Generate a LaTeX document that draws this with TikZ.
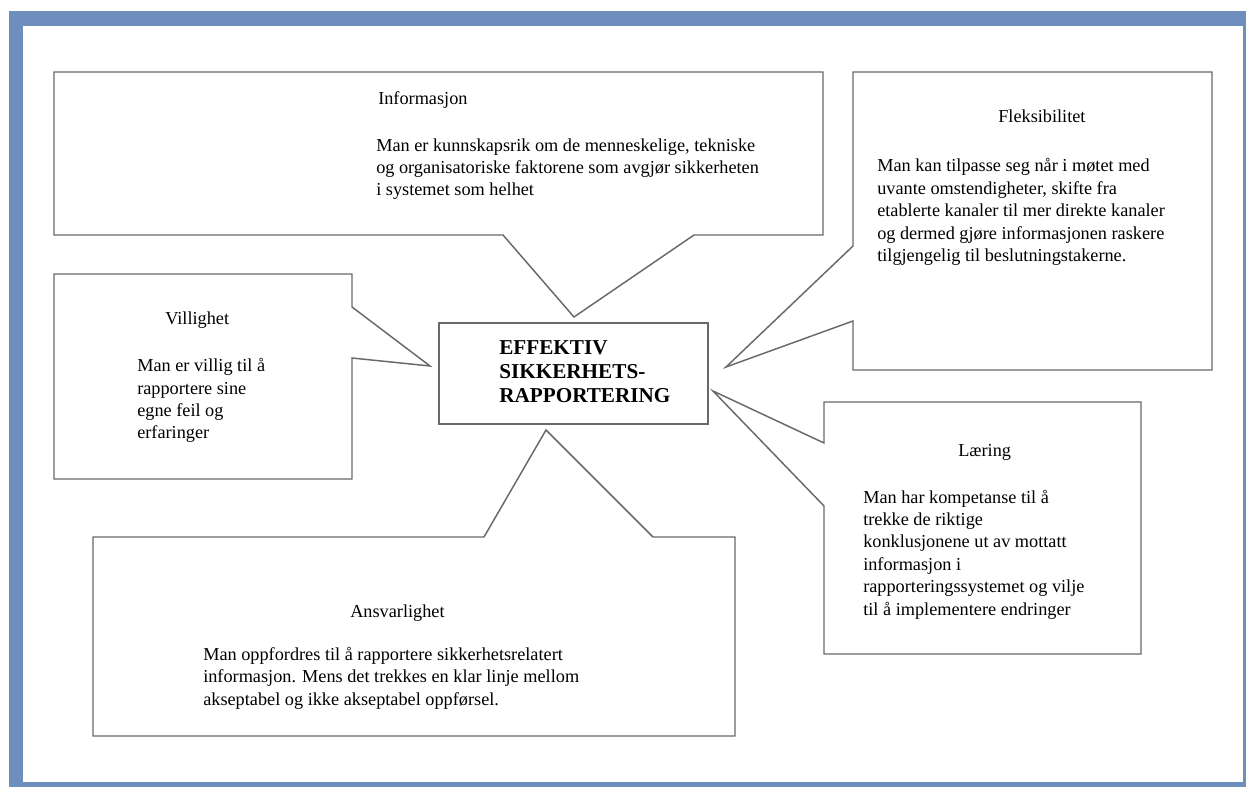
\documentclass[tikz,border=0pt]{standalone}
\usepackage{fontspec}
\setmainfont{Liberation Serif}
\begin{document}
\definecolor{frameblue}{RGB}{110,142,190}
\definecolor{linegray}{RGB}{105,105,105}
\begin{tikzpicture}[x=0.75pt,y=-0.75pt,
  callout/.style={draw=linegray,line width=1.1pt,fill=white,line join=miter},
  heading/.style={anchor=base west,inner sep=0pt,font=\fontsize{13.7}{16.8}\selectfont},
  bodytext/.style={anchor=base west,inner sep=0pt,align=left,font=\fontsize{13.7}{16.8}\selectfont},
  coretitle/.style={anchor=base west,inner sep=0pt,align=left,font=\bfseries\fontsize{15.9}{18}\selectfont}]
\useasboundingbox (0,0) rectangle (1246,787);
% page frame
\fill[white] (0,0) rectangle (1246,787);
\fill[frameblue] (9,11) rectangle (1246,787);
\fill[white] (23,26) rectangle (1243,782);

% Informasjon callout, pointing down
\path[callout] (54,72) -- (823,72) -- (823,235) -- (694,235) -- (574,317)
  -- (503,235) -- (54,235) -- cycle;
% Fleksibilitet callout, pointing left
\path[callout] (853,72) -- (1212,72) -- (1212,370) -- (853,370) -- (853,321)
  -- (726,367) -- (853,246) -- cycle;
% Villighet callout, pointing right
\path[callout] (54,274) -- (352,274) -- (352,307) -- (430,366) -- (352,358)
  -- (352,479) -- (54,479) -- cycle;
% Læring callout, pointing left
\path[callout] (824,402) -- (1141,402) -- (1141,654) -- (824,654) -- (824,506)
  -- (713,391) -- (824,443) -- cycle;
% Ansvarlighet callout, pointing up
\path[callout] (93,537) -- (484,537) -- (546,430) -- (653,537) -- (735,537)
  -- (735,736) -- (93,736) -- cycle;

% central box
\node (core) [draw=linegray,line width=1.1pt,fill=white,inner sep=0pt,
  minimum width=269*0.75pt,minimum height=101*0.75pt] at (573.5,373.5) {};
% multi-line nodes sit on the baseline of their last line
\node (coretext) [coretitle] at (499,403) {EFFEKTIV\\SIKKERHETS-\\RAPPORTERING};

% texts
\node (infohead) [heading] at (378,105) {Informasjon};
\node (infobody) [bodytext] at (376,196) {Man er kunnskapsrik om de menneskelige, tekniske\\og organisatoriske faktorene som avgjør sikkerheten\\i systemet som helhet};

\node (flekshead) [heading] at (998,123) {Fleksibilitet};
\node (fleksbody) [bodytext] at (877,261.6) {Man kan tilpasse seg når i møtet med\\uvante omstendigheter, skifte fra\\etablerte kanaler til mer direkte kanaler\\og dermed gjøre informasjonen raskere\\tilgjengelig til beslutningstakerne.};

\node (villhead) [heading] at (165,325) {Villighet};
\node (villbody) [bodytext] at (137,439) {Man er villig til å\\rapportere sine\\egne feil og\\erfaringer};

\node (laerhead) [heading] at (958,457) {Læring};
\node (laerbody) [bodytext] at (863,615) {Man har kompetanse til å\\trekke de riktige\\konklusjonene ut av mottatt\\informasjon i\\rapporteringssystemet og vilje\\til å implementere endringer};

\node (ansvhead) [heading] at (350,617) {Ansvarlighet};
\node (ansvbody) [bodytext] at (203,705) {Man oppfordres til å rapportere sikkerhetsrelatert\\informasjon. Mens det trekkes en klar linje mellom\\akseptabel og ikke akseptabel oppførsel.};
\end{tikzpicture}
\end{document}
